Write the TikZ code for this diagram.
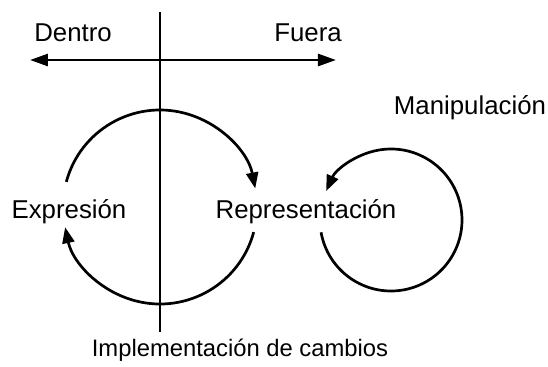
\documentclass[tikz,border=0pt]{standalone}
\usepackage{fontspec}
\setmainfont{Liberation Sans}
\usetikzlibrary{arrows.meta}

\begin{document}
\begin{tikzpicture}
  [x=0.5pt,y=0.5pt,line width=1.35pt,
   every node/.style={font=\fontsize{12.9}{15}\selectfont},
   tip/.style={-{Triangle[length=8pt,width=6pt]}}]
  \useasboundingbox (0,0) rectangle (548,366);

  \coordinate (top) at (160,354);
  \coordinate (bot) at (160,34);
  \coordinate (west) at (30,306);
  \coordinate (east) at (336,306);
  \coordinate (c1) at (160,159);
  \coordinate (c2) at (391,146);

  \node (dentro) at (73,333)  {Dentro};
  \node (fuera)  at (308,333) {Fuera};
  \node (expr)   at (69,154)  {Expresión};
  \node (repr)   at (306,154) {Representación};
  \node (manip)  at (470,258) {Manipulación};
  \node[font=\fontsize{11.9}{14}\selectfont] (impl) at (240,16) {Implementación de cambios};

  \draw (top) -- (bot);
  \draw[{Triangle[length=9pt,width=6pt]}-{Triangle[length=9pt,width=6pt]}] (west) -- (east);

  \foreach \c/\from/\to/\r in {c1/165/11/97,c1/345/192/97,c2/190/516/71}
    \draw[tip] ([shift={(\from:\r)}]\c) arc[start angle=\from,end angle=\to,radius=\r];

\end{tikzpicture}
\end{document}
